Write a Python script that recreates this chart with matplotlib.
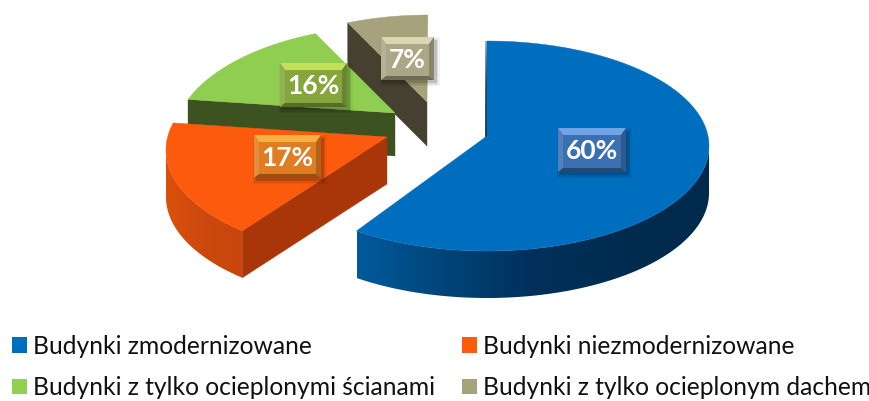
import numpy as np
import matplotlib
matplotlib.use('Agg')
import matplotlib.pyplot as plt
from matplotlib.colors import LinearSegmentedColormap, to_rgb
from matplotlib.patches import Patch, Polygon

categories = ['Budynki zmodernizowane', 'Budynki niezmodernizowane',
              'Budynki z tylko ocieplonymi ścianami', 'Budynki z tylko ocieplonym dachem']
values = [60, 17, 16, 7]
# shares shown on the chart, the slices start at 12 o'clock and run clockwise
colors = ['#006EBE', '#FC5A0C', '#8FCE50', '#A6A27C']
label_colors = ['#3A70B2', '#E07C22', '#84A63C', '#ABA685']
label_tops = ['#6FA5E6', '#F8B040', '#C4E05A', '#DAD6B4']

# layout in pixels: ellipse centre, radii, apex of the slice
centers = [(487, 146), (388, 150), (395, 141), (428, 130)]
radii = [(222, 105), (222, 107), (222, 115), (222, 115)]
apexes = [(487, 136), (387, 137), (395, 113), (427, 102)]
# the 3D perspective bends the angles a little: shift in degrees and stretch
angle_shift = [0, 5, 14, 4]
angle_scale = [1.0, 1.04, 0.83, 0.84]
depths = [47, 47, 43, 44]
label_boxes = [(558, 128, 68, 44), (254, 135, 67, 43), (280, 63, 67, 44), (381, 37, 53, 43)]

plt.rcParams['font.family'] = ['Lato', 'DejaVu Sans']

fig = plt.figure(figsize=(8.7, 4.01), dpi=100)
ax = fig.add_axes([0, 0, 1, 1])
ax.axis('off')


def arc(i, t0, t1, n=120):
    t = np.radians(np.linspace(t0, t1, n))
    cx, cy = centers[i]
    rx, ry = radii[i]
    return cx + rx * np.sin(t), cy - ry * np.cos(t)


def side_band(x, y, depth, cmap, z):
    # outer wall of a slice, a horizontal gradient clipped to the wall shape
    px = np.r_[x, x[::-1]]
    py = np.r_[y, y[::-1] + depth]
    grad = np.linspace(0, 1, 256).reshape(1, -1)
    im = ax.imshow(grad, cmap=cmap, extent=(px.min(), px.max(), py.max(), py.min()),
                   aspect='auto', zorder=z, interpolation='bilinear')
    clip = Polygon(np.c_[px, py], closed=True, transform=ax.transData)
    im.set_clip_path(clip)


def flat_side(p, q, depth, color, z):
    ax.fill([p[0], q[0], q[0], p[0]], [p[1], q[1], q[1] + depth, p[1] + depth],
            color=color, lw=0.3, zorder=z)


# colours run left to right across the wall
blue_cmap = LinearSegmentedColormap.from_list('b', ['#005A9C', '#004478', '#00305A', '#002C50', '#002A4C'])
orange_cmap = LinearSegmentedColormap.from_list('o', ['#DC500C', '#CC480C', '#C8460C'])

start = 0
order = [3, 2, 1, 0]
ends = {}
for i, v in enumerate(values):
    t0 = start * 3.6 + angle_shift[i]
    t1 = t0 + v * 3.6 * angle_scale[i]
    ends[i] = (t0, t1)
    start += v

for i in order:
    z = 10 + (3 - i) * 3
    t0, t1 = ends[i]
    x, y = arc(i, t0, t1)
    apex = apexes[i]
    first = (x[0], y[0])
    if i == 0:
        xs, ys = arc(i, 90, t1)
        side_band(xs, ys, depths[i], blue_cmap, z)
        ax.fill([first[0] - 1, apex[0], apex[0] - 1.5], [first[1], apex[1], apex[1] + 3],
                color='#002A4C', lw=0.5, zorder=z)
    elif i == 1:
        xs, ys = arc(i, t0, 270)
        side_band(xs, ys, depths[i], orange_cmap, z)
        flat_side(first, apex, depths[i], '#A83608', z)
    elif i == 2:
        flat_side(first, apex, depths[i], '#3C5220', z)
    else:
        flat_side(first, apex, depths[i], '#45402F', z)
    ax.fill(np.r_[apex[0], x], np.r_[apex[1], y], color=colors[i], lw=0.3, zorder=z + 1)


def mix(c, other, a):
    c = np.array(to_rgb(c))
    return tuple(c + (np.array(to_rgb(other)) - c) * a)


for i, (bx, by, bw, bh) in enumerate(label_boxes):
    c = label_colors[i]
    b = 5
    for s, a in [(4, 0.05), (2.5, 0.08), (1, 0.14)]:
        ax.fill([bx - s + 3, bx + bw + s + 2, bx + bw + s + 2, bx - s + 3],
                [by - s + 4, by - s + 4, by + bh + s + 2, by + bh + s + 2],
                color='black', alpha=a, lw=0, zorder=30)
    ax.fill([bx, bx + bw, bx + bw, bx], [by, by, by + bh, by + bh], color=c, lw=0, zorder=31)
    ax.fill([bx, bx + bw, bx + bw - b, bx + b], [by, by, by + 7, by + 7],
            color=label_tops[i], lw=0, zorder=32)
    ax.fill([bx, bx + b, bx + b, bx], [by, by + 7, by + bh - 4, by + bh],
            color=mix(c, 'white', 0.12), lw=0, zorder=32)
    ax.fill([bx + bw, bx + bw - b, bx + bw - b, bx + bw], [by, by + 7, by + bh - 4, by + bh],
            color=mix(c, 'black', 0.2), lw=0, zorder=32)
    ax.fill([bx, bx + bw, bx + bw - b, bx + b], [by + bh, by + bh, by + bh - 4, by + bh - 4],
            color=mix(c, 'black', 0.35), lw=0, zorder=32)
    ax.text(bx + bw / 2, by + bh / 2 + 1, '{}%'.format(values[i]), color='white',
            fontsize=19, fontweight='bold', ha='center', va='center', zorder=33)

ax.set_xlim(0, 870)
ax.set_ylim(401, 0)

legend_order = [0, 2, 1, 3]
handles = [Patch(color=colors[i] if i != 2 else '#92D050', lw=0) for i in legend_order]
labels = [categories[i] for i in legend_order]
leg = ax.legend(handles, labels, ncol=2, loc='upper left', bbox_to_anchor=(12 / 870, 1 - 335 / 401),
                bbox_transform=fig.transFigure, frameon=False, fontsize=17.7,
                handlelength=0.61, handleheight=0.61, handletextpad=0.25, columnspacing=1.1,
                labelspacing=0.74, borderpad=0, borderaxespad=0, labelcolor='#111111')
leg.set_zorder(40)

plt.savefig('out.png', dpi=100)
